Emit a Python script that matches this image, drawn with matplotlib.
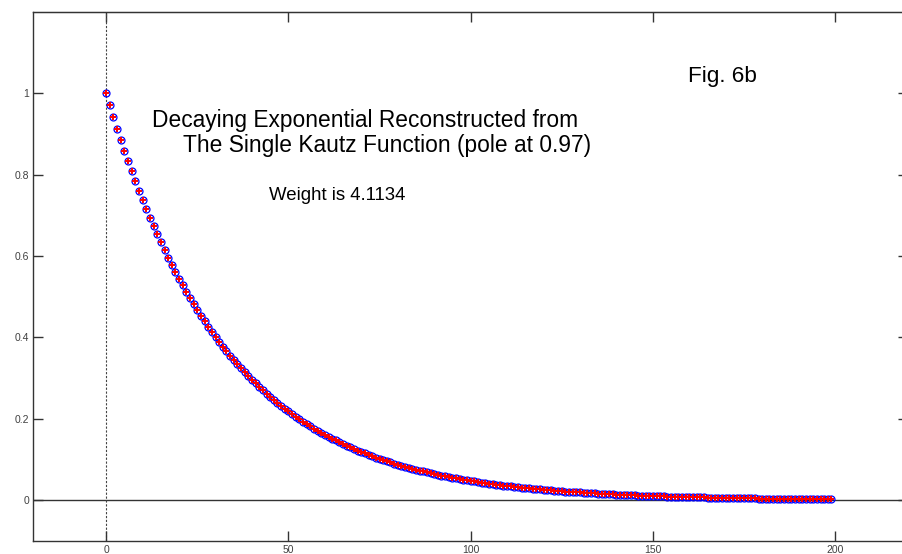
import matplotlib
matplotlib.use("Agg")
import matplotlib.pyplot as plt

plt.rcParams["font.family"] = ["Liberation Sans", "DejaVu Sans"]

# sample index
n = list(range(200))

# original decaying exponential (pole at 0.97)
original = [
    1.0000, 0.9700, 0.9409, 0.9127, 0.8853, 0.8587, 0.8330, 0.8080, 0.7837, 0.7602,
    0.7374, 0.7153, 0.6938, 0.6730, 0.6528, 0.6333, 0.6143, 0.5958, 0.5780, 0.5606,
    0.5438, 0.5275, 0.5117, 0.4963, 0.4814, 0.4670, 0.4530, 0.4394, 0.4262, 0.4134,
    0.4010, 0.3890, 0.3773, 0.3660, 0.3550, 0.3444, 0.3340, 0.3240, 0.3143, 0.3049,
    0.2957, 0.2868, 0.2782, 0.2699, 0.2618, 0.2539, 0.2463, 0.2389, 0.2318, 0.2248,
    0.2181, 0.2115, 0.2052, 0.1990, 0.1931, 0.1873, 0.1816, 0.1762, 0.1709, 0.1658,
    0.1608, 0.1560, 0.1513, 0.1468, 0.1424, 0.1381, 0.1339, 0.1299, 0.1260, 0.1222,
    0.1186, 0.1150, 0.1116, 0.1082, 0.1050, 0.1018, 0.0988, 0.0958, 0.0929, 0.0901,
    0.0874, 0.0848, 0.0823, 0.0798, 0.0774, 0.0751, 0.0728, 0.0707, 0.0685, 0.0665,
    0.0645, 0.0625, 0.0607, 0.0589, 0.0571, 0.0554, 0.0537, 0.0521, 0.0505, 0.0490,
    0.0476, 0.0461, 0.0447, 0.0434, 0.0421, 0.0408, 0.0396, 0.0384, 0.0373, 0.0362,
    0.0351, 0.0340, 0.0330, 0.0320, 0.0310, 0.0301, 0.0292, 0.0283, 0.0275, 0.0267,
    0.0259, 0.0251, 0.0243, 0.0236, 0.0229, 0.0222, 0.0215, 0.0209, 0.0203, 0.0197,
    0.0191, 0.0185, 0.0179, 0.0174, 0.0169, 0.0164, 0.0159, 0.0154, 0.0149, 0.0145,
    0.0141, 0.0136, 0.0132, 0.0128, 0.0124, 0.0121, 0.0117, 0.0114, 0.0110, 0.0107,
    0.0104, 0.0101, 0.0098, 0.0095, 0.0092, 0.0089, 0.0086, 0.0084, 0.0081, 0.0079,
    0.0076, 0.0074, 0.0072, 0.0070, 0.0068, 0.0066, 0.0064, 0.0062, 0.0060, 0.0058,
    0.0056, 0.0055, 0.0053, 0.0051, 0.0050, 0.0048, 0.0047, 0.0046, 0.0044, 0.0043,
    0.0042, 0.0040, 0.0039, 0.0038, 0.0037, 0.0036, 0.0035, 0.0034, 0.0033, 0.0032,
    0.0031, 0.0030, 0.0029, 0.0028, 0.0027, 0.0026, 0.0026, 0.0025, 0.0024, 0.0023,
]

# reconstruction from the single Kautz function (weight 4.1134)
reconstructed = list(original)

x_ticks = [0, 50, 100, 150, 200]
y_ticks = [0, 0.2, 0.4, 0.6, 0.8, 1]
y_tick_labels = ["0", "0.2", "0.4", "0.6", "0.8", "1"]

spine_col = "#333333"
label_col = "#404040"

fig = plt.figure(figsize=(9.03, 5.54), dpi=100)
ax = fig.add_axes([0.0369, 0.0235, 0.9686, 0.9554])

ax.axhline(0, color=spine_col, lw=1.0, zorder=1)
ax.axvline(0, color="#444444", lw=0.8, ls=(0, (2, 1.5)), zorder=1)

ax.plot(n, original, ls="none", marker="o", ms=5, mfc="none", mec="#0000ff",
        mew=0.9, zorder=3)
ax.plot(n, reconstructed, ls="none", marker="+", ms=4.5, mec="#ff0000",
        mew=1.4, zorder=4)

ax.set_xlim(-20, 220)
ax.set_ylim(-0.1, 1.2)
ax.set_xticks(x_ticks)
ax.set_xticklabels([str(t) for t in x_ticks])
ax.set_yticks(y_ticks)
ax.set_yticklabels(y_tick_labels)
ax.tick_params(direction="in", length=7, width=1.0, color=spine_col,
               labelsize=7.5, labelcolor=label_col, pad=3,
               right=True, top=False)
for s in ax.spines.values():
    s.set_color(spine_col)
    s.set_linewidth(1.0)

# top axis repeats the sample ticks; its labels sit at the figure's top edge
top = ax.secondary_xaxis("top")
top.set_xticks(x_ticks)
top.set_xticklabels([str(t) for t in x_ticks])
top.tick_params(direction="in", length=7, width=1.0, color=spine_col,
                labelsize=7.5, labelcolor=label_col, pad=9)
top.spines["top"].set_color(spine_col)

ax.text(12.5, 0.917, "Decaying Exponential Reconstructed from",
        fontsize=16.4, color="black", ha="left", va="baseline")
ax.text(21.0, 0.856, "The Single Kautz Function (pole at 0.97)",
        fontsize=16.4, color="black", ha="left", va="baseline")
ax.text(44.6, 0.738, "Weight is 4.1134",
        fontsize=13.4, color="black", ha="left", va="baseline")
ax.text(159.6, 1.028, "Fig. 6b",
        fontsize=16.2, color="black", ha="left", va="baseline")

fig.savefig("out.png", dpi=100)
